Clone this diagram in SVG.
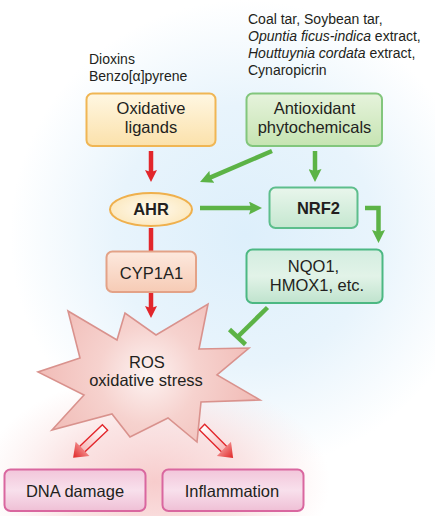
<svg xmlns="http://www.w3.org/2000/svg" width="435" height="516" viewBox="0 0 435 516">
<defs>
<radialGradient id="bgBlue" cx="245" cy="235" r="235" gradientUnits="userSpaceOnUse">
<stop offset="0" stop-color="#ddeffb"/>
<stop offset="0.55" stop-color="#e8f4fc"/>
<stop offset="1" stop-color="#ffffff"/>
</radialGradient>
<radialGradient id="bgPink" cx="155" cy="482" r="175" gradientUnits="userSpaceOnUse" gradientTransform="translate(155 482) scale(1 0.62) translate(-155 -482)">
<stop offset="0" stop-color="#f7cccc" stop-opacity="1"/>
<stop offset="0.55" stop-color="#f9dcdc" stop-opacity="0.75"/>
<stop offset="1" stop-color="#fbe6e6" stop-opacity="0"/>
</radialGradient>
<linearGradient id="gOx" x1="0" y1="0" x2="0" y2="1">
<stop offset="0" stop-color="#fff7e2"/><stop offset="1" stop-color="#fbe1ab"/>
</linearGradient>
<linearGradient id="gAnti" x1="0" y1="0" x2="0" y2="1">
<stop offset="0" stop-color="#e6f3dc"/><stop offset="1" stop-color="#c6e4b2"/>
</linearGradient>
<linearGradient id="gNrf" x1="0" y1="0" x2="0" y2="1">
<stop offset="0" stop-color="#e9f6ec"/><stop offset="1" stop-color="#c5e7d0"/>
</linearGradient>
<linearGradient id="gNqo" x1="0" y1="0" x2="0" y2="1">
<stop offset="0" stop-color="#d3ede0"/><stop offset="0.5" stop-color="#e2f3e8"/><stop offset="1" stop-color="#bfe3cd"/>
</linearGradient>
<linearGradient id="gCyp" x1="0" y1="0" x2="0" y2="1">
<stop offset="0" stop-color="#fde9de"/><stop offset="1" stop-color="#f6cbb5"/>
</linearGradient>
<linearGradient id="gPink" x1="0" y1="0" x2="0" y2="1">
<stop offset="0" stop-color="#f2c6da"/><stop offset="0.5" stop-color="#f8e0ec"/><stop offset="1" stop-color="#efbfd5"/>
</linearGradient>
<radialGradient id="gAhr" cx="0.5" cy="0.5" r="0.6">
<stop offset="0" stop-color="#fffaf0"/><stop offset="1" stop-color="#fbe6b8"/>
</radialGradient>
<radialGradient id="gStar" cx="148" cy="375" r="110" gradientUnits="userSpaceOnUse">
<stop offset="0" stop-color="#fdf3f2"/><stop offset="0.45" stop-color="#f6d2ce"/><stop offset="1" stop-color="#f1bcb7"/>
</radialGradient>
<linearGradient id="gHead" x1="0" y1="0" x2="1" y2="0">
<stop offset="0" stop-color="#f08080"/><stop offset="1" stop-color="#e02424"/>
</linearGradient>
<linearGradient id="gShaft" x1="0" y1="0" x2="1" y2="0">
<stop offset="0" stop-color="#ffffff"/><stop offset="1" stop-color="#f7b9b9"/>
</linearGradient>
<marker id="hG" markerUnits="userSpaceOnUse" markerWidth="14" markerHeight="13" refX="4" refY="6.5" orient="auto">
<path d="M0,0 L13,6.5 L0,13 L2,6.5 z" fill="#5cb346"/>
</marker>
<marker id="hR" markerUnits="userSpaceOnUse" markerWidth="14" markerHeight="13" refX="4" refY="6.5" orient="auto">
<path d="M0,0.5 L12,6.5 L0,12.5 L2,6.5 z" fill="#e2262b"/>
</marker>
<style>
text{font-family:"Liberation Sans",Arial,sans-serif;fill:#231f20}
.lbl{font-size:16.5px;text-anchor:middle}
.b{font-weight:bold}
.src{font-size:14px}
.g{stroke:#5cb346;stroke-width:4.5;fill:none}
.r{stroke:#e2262b;stroke-width:4.5;fill:none}
</style>
</defs>

<rect x="0" y="0" width="435" height="516" fill="#ffffff"/>
<rect x="0" y="0" width="435" height="516" fill="url(#bgBlue)"/>
<rect x="0" y="300" width="435" height="216" fill="url(#bgPink)"/>

<g id="sources">
<text class="src" x="89" y="63.5">Dioxins</text>
<text class="src" x="89" y="81">Benzo[α]pyrene</text>
<text class="src" x="248" y="24">Coal tar, Soybean tar,</text>
<text class="src" x="248" y="41"><tspan font-style="italic">Opuntia ficus-indica</tspan> extract,</text>
<text class="src" x="248" y="58"><tspan font-style="italic">Houttuynia cordata</tspan> extract,</text>
<text class="src" x="248" y="75">Cynaropicrin</text>
</g>

<g id="connectors">
<line class="r" x1="151" y1="151" x2="151" y2="174" marker-end="url(#hR)"/>
<line class="g" x1="272" y1="151" x2="208.3" y2="178.4" marker-end="url(#hG)"/>
<line class="g" x1="315" y1="151" x2="315" y2="173" marker-end="url(#hG)"/>
<line class="g" x1="200" y1="208" x2="253" y2="208" marker-end="url(#hG)"/>
<polyline class="g" points="365,208 378.5,208 378.5,234" marker-end="url(#hG)"/>
<line class="r" x1="151" y1="228" x2="151" y2="251"/>
<line class="r" x1="151" y1="292" x2="151" y2="310" marker-end="url(#hR)"/>
<g id="inhibit">
<line class="g" x1="267.5" y1="307.5" x2="237.5" y2="337"/>
<line class="g" x1="229.5" y1="329.5" x2="245.5" y2="344.5"/>
</g>
<g id="hollow-left" transform="translate(105 427.5) rotate(136.4)">
<rect x="0" y="-3.8" width="32" height="7.6" fill="url(#gShaft)" stroke="#e2262b" stroke-width="1.4"/>
<path d="M31,-10 L44,0 L31,10 z" fill="url(#gHead)"/>
</g>
<g id="hollow-right" transform="translate(202 427) rotate(45)">
<rect x="0" y="-3.8" width="32" height="7.6" fill="url(#gShaft)" stroke="#e2262b" stroke-width="1.4"/>
<path d="M31,-10 L44,0 L31,10 z" fill="url(#gHead)"/>
</g>
</g>

<g id="oxidative-ligands">
<rect x="86.5" y="93.5" width="129" height="52.5" rx="6" fill="url(#gOx)" stroke="#f0b654" stroke-width="2"/>
<text class="lbl" x="151" y="114">Oxidative</text>
<text class="lbl" x="151" y="132.5">ligands</text>
</g>

<g id="antioxidant-phytochemicals">
<rect x="246.5" y="93.5" width="135.5" height="52.5" rx="6" fill="url(#gAnti)" stroke="#82c67c" stroke-width="2"/>
<text class="lbl" x="314.5" y="114">Antioxidant</text>
<text class="lbl" x="314.5" y="132.5">phytochemicals</text>
</g>

<g id="ahr">
<ellipse cx="151" cy="209.5" rx="41" ry="16.5" fill="url(#gAhr)" stroke="#efb04d" stroke-width="2"/>
<text class="lbl b" x="151" y="215">AHR</text>
</g>

<g id="nrf2">
<rect x="269.5" y="187.5" width="88" height="40.5" rx="6" fill="url(#gNrf)" stroke="#5dbe8c" stroke-width="2"/>
<text class="lbl b" x="318.5" y="214">NRF2</text>
</g>

<g id="cyp1a1">
<rect x="106.5" y="251.5" width="89.5" height="40.5" rx="6" fill="url(#gCyp)" stroke="#e3a287" stroke-width="2"/>
<text class="lbl" x="151.5" y="278.5">CYP1A1</text>
</g>

<g id="nqo1">
<rect x="246.5" y="249.5" width="136" height="53.5" rx="6" fill="url(#gNqo)" stroke="#4cb883" stroke-width="2"/>
<text class="lbl" x="313.5" y="272">NQO1,</text>
<text class="lbl" x="317" y="291">HMOX1, etc.</text>
</g>

<g id="ros">
<polygon points="68,311 117,340 125,313 156,335 208,304 199,349 249,348 217,375 260,400 201,402 197,442 168,418 130,437 112,414 52,430 84,395 38,372 80,358" fill="url(#gStar)" stroke="#d9928d" stroke-width="1.6" stroke-linejoin="miter"/>
<text class="lbl" x="147" y="367.5">ROS</text>
<text class="lbl" x="146" y="386">oxidative stress</text>
</g>

<g id="dna-damage">
<rect x="4.5" y="469.5" width="141" height="41.5" rx="6" fill="url(#gPink)" stroke="#d9679f" stroke-width="2"/>
<text class="lbl" x="75" y="497">DNA damage</text>
</g>

<g id="inflammation">
<rect x="162.5" y="469.5" width="141" height="41.5" rx="6" fill="url(#gPink)" stroke="#d9679f" stroke-width="2"/>
<text class="lbl" x="232" y="497">Inflammation</text>
</g>
</svg>
